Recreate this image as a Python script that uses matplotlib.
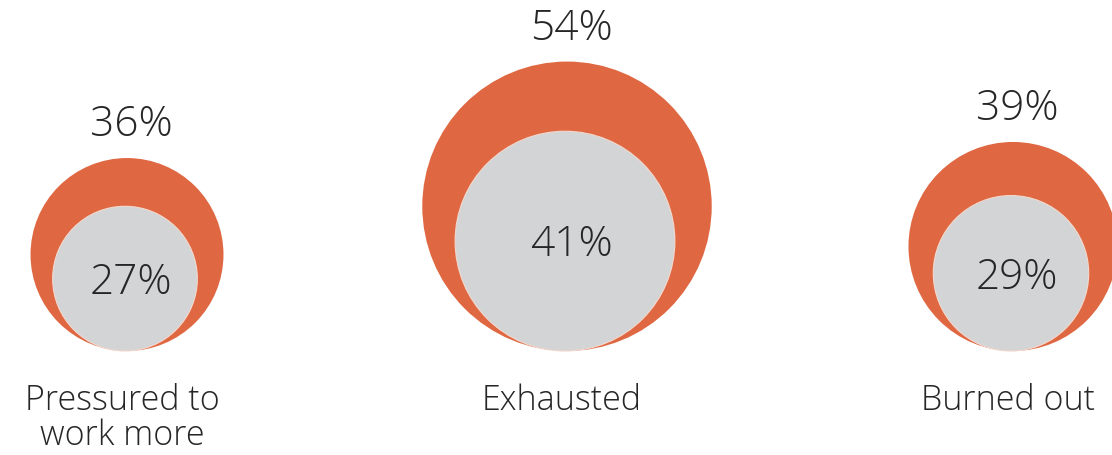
import matplotlib.pyplot as plt
from matplotlib.patches import Circle

# values
categories = ['Pressured to\nwork more', 'Exhausted', 'Burned out']
outer_vals = [36, 54, 39]
inner_vals = [27, 41, 29]

# layout (pixels)
centers_x = [127, 567, 1013]
base_y = 352          # bottom where the circles touch
k = 2.68              # radius per percent point

orange = '#DF6842'
grey = '#D3D4D6'
txt = '#262626'
fam = ['Open Sans', 'DejaVu Sans']

fig = plt.figure(figsize=(11.12, 4.56), dpi=100)
ax = fig.add_axes([0, 0, 1, 1])
ax.set_xlim(0, 1112)
ax.set_ylim(456, 0)
ax.set_aspect('equal')
ax.axis('off')

for cx, ov, iv, lab in zip(centers_x, outer_vals, inner_vals, categories):
    ro = ov * k
    ri = iv * k
    ax.add_patch(Circle((cx, base_y - ro), ro, color=orange, lw=0))
    ax.add_patch(Circle((cx - 2, base_y - ri), ri, facecolor=grey,
                        edgecolor='#F2D9CF', lw=0.8))
    ax.text(cx + 4, base_y - 2 * ro - 13, f'{ov}%', ha='center', va='bottom',
            fontsize=30.5, color=txt, family=fam, weight='light')
    ax.text(cx + 4, base_y - ri + 3, f'{iv}%', ha='center', va='center',
            fontsize=30.5, color=txt, family=fam, weight='light')
    ax.text(cx - 5, 384, lab, ha='center', va='top', fontsize=24.5,
            color=txt, family=fam, weight='light', linespacing=1.0)

fig.savefig('out.png', dpi=100)
